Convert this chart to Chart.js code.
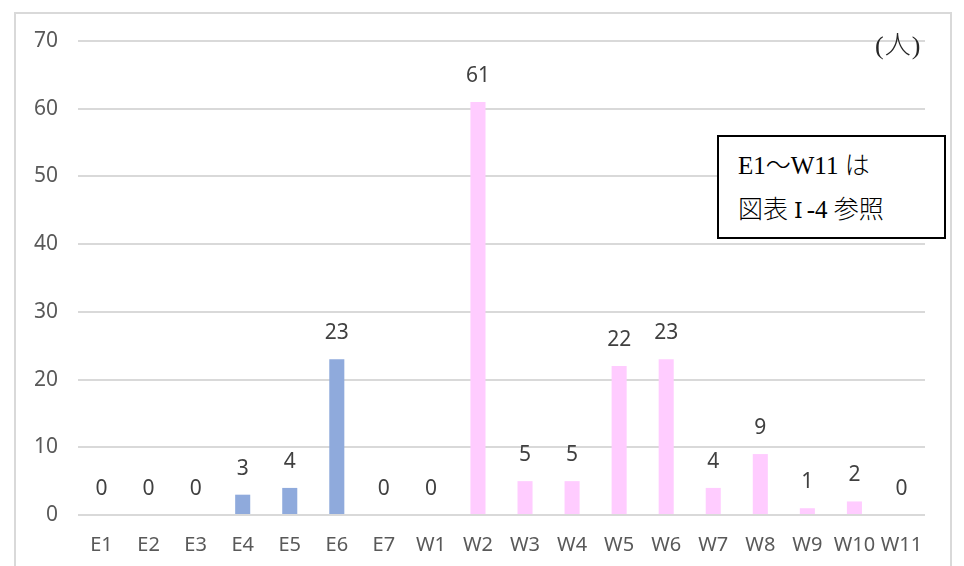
<!DOCTYPE html>
<html lang="ja">
<head>
<meta charset="utf-8">
<script src="https://cdn.jsdelivr.net/npm/chart.js@4/dist/chart.umd.min.js"></script>
<style>
  html, body { margin: 0; padding: 0; background: #fff; }
  #wrap { position: relative; width: 964px; height: 566px; overflow: hidden; }
  #frame { position: absolute; left: 14px; top: 12px; width: 938px; height: 600px;
           border: 2px solid #d9d9d9; box-sizing: border-box; }
  canvas { position: absolute; left: 0; top: 0; }
  .unit { position: absolute; left: 875px; top: 24px; font: 300 26px "Liberation Serif", "Noto Sans CJK JP", serif;
          color: #262626; letter-spacing: 1px; }
  .note { position: absolute; left: 717px; top: 135px; width: 229px; height: 104px; box-sizing: border-box;
          border: 2px solid #000; background: #fff; font: 300 25px/44px "Liberation Serif", "Noto Sans CJK JP", serif;
          color: #000; padding: 7px 0 0 19px; white-space: nowrap; }
  .note .r { padding: 0 4px 0 6px; font-family: "DejaVu Serif", "Liberation Serif", serif; font-size: 22px; }
</style>
</head>
<body>
<div id="wrap">
  <div id="frame"></div>
  <canvas id="c" width="964" height="566"></canvas>
  <div class="unit">(人)</div>
  <div class="note">E1～W11 は<br>図表<span class="r">Ⅰ</span>-4 参照</div>
</div>
<script>
// Areas: East (E) and West (W)
const categories = ['E1','E2','E3','E4','E5','E6','E7','W1','W2','W3','W4','W5','W6','W7','W8','W9','W10','W11'];
const counts     = [0, 0, 0, 3, 4, 23, 0, 0, 61, 5, 5, 22, 23, 4, 9, 1, 2, 0];
const groups     = ['E','E','E','E','E','E','E','W','W','W','W','W','W','W','W','W','W','W'];
const yTicks     = [0, 10, 20, 30, 40, 50, 60, 70];
const groupColors = { E: '#8faadc', W: '#ffccff' };

const valueLabels = {
  id: 'valueLabels',
  afterDatasetsDraw(chart) {
    const ctx = chart.ctx;
    const meta = chart.getDatasetMeta(0);
    ctx.save();
    ctx.font = '21px "Noto Sans", sans-serif';
    ctx.fillStyle = '#404040';
    ctx.textAlign = 'center';
    ctx.textBaseline = 'middle';
    meta.data.forEach((bar, i) => {
      ctx.fillText(String(counts[i]), bar.x, bar.y - 26);
    });
    ctx.restore();
  }
};

new Chart(document.getElementById('c'), {
  type: 'bar',
  data: {
    labels: categories,
    datasets: [{
      data: counts,
      backgroundColor: groups.map(g => groupColors[g]),
      borderWidth: 0,
      categoryPercentage: 1,
      barPercentage: 0.32
    }]
  },
  options: {
    responsive: false,
    animation: false,
    layout: { padding: { left: 0, right: 39, top: 41, bottom: 0 } },
    plugins: { legend: { display: false }, tooltip: { enabled: false } },
    scales: {
      x: {
        grid: { display: false, drawTicks: false },
        border: { display: false },
        ticks: { color: '#595959', font: { family: '"Noto Sans", sans-serif', size: 20 }, padding: 18, maxRotation: 0, autoSkip: false },
        afterFit(s) { s.height = 51; }
      },
      y: {
        min: 0, max: 70,
        afterBuildTicks(s) { s.ticks = yTicks.map(v => ({ value: v })); },
        grid: { color: '#d9d9d9', lineWidth: 2, drawTicks: false },
        border: { display: false },
        ticks: { color: '#595959', font: { family: '"Noto Sans", sans-serif', size: 21 }, padding: 20 },
        afterFit(s) { s.width = 78; }
      }
    }
  },
  plugins: [valueLabels]
});
</script>
</body>
</html>
